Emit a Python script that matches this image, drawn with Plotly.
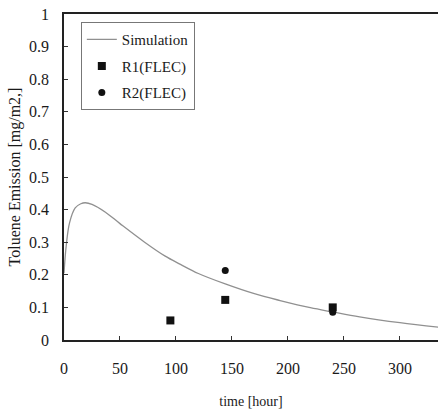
import plotly.graph_objects as go

# Simulation curve
sim_t = [0, 2, 5, 10, 15, 19, 25, 37, 50, 72, 90, 104, 120, 144, 170, 193, 220, 240, 264, 300, 335]
sim_y = [0.205, 0.29, 0.36, 0.405, 0.418, 0.421, 0.416, 0.392, 0.357, 0.30, 0.258, 0.232, 0.204,
         0.172, 0.142, 0.121, 0.099, 0.086, 0.071, 0.053, 0.039]

# Measured points
r1_t = [95, 144, 240]
r1_y = [0.06, 0.123, 0.10]
r2_t = [144, 240]
r2_y = [0.213, 0.085]

x_ticks = [0, 50, 100, 150, 200, 250, 300]
y_ticks = [0, 0.1, 0.2, 0.3, 0.4, 0.5, 0.6, 0.7, 0.8, 0.9, 1]
y_labels = ["0", "0.1", "0.2", "0.3", "0.4", "0.5", "0.6", "0.7", "0.8", "0.9", "1"]

FONT = "Liberation Serif"

fig = go.Figure()
fig.add_trace(go.Scatter(x=sim_t, y=sim_y, mode="lines", name="Simulation", legendgroup="a",
                         line=dict(color="#909090", width=1.3, shape="spline")))
fig.add_trace(go.Scatter(x=r1_t, y=r1_y, mode="markers", name="R1(FLEC)", legendgroup="b",
                         marker=dict(symbol="square", size=8, color="#111111")))
fig.add_trace(go.Scatter(x=r2_t, y=r2_y, mode="markers", name="R2(FLEC)", legendgroup="c",
                         marker=dict(symbol="circle", size=7, color="#111111")))

fig.update_layout(
    width=438, height=412,
    margin=dict(l=64, r=0, t=14, b=72),
    paper_bgcolor="white", plot_bgcolor="white",
    font=dict(family=FONT, color="#1a1a1a", size=16),
    showlegend=True,
    legend=dict(x=0.045, y=0.975, xanchor="left", yanchor="top",
                bordercolor="#777777", borderwidth=1, bgcolor="white",
                font=dict(family=FONT, size=15), traceorder="grouped",
                tracegroupgap=4, itemwidth=30),
)
fig.update_xaxes(range=[0, 334], tickvals=x_ticks, ticks="inside", ticklen=4,
                 tickcolor="#333333", showline=True, linecolor="#222222", linewidth=2,
                 mirror=True, showgrid=False, zeroline=False,
                 tickfont=dict(family=FONT, size=16), ticklabelstandoff=13,
                 title=dict(text="time [hour]", font=dict(family=FONT, size=14), standoff=20))
fig.update_yaxes(range=[0, 1], tickvals=y_ticks, ticktext=y_labels, ticks="inside", ticklen=4,
                 tickcolor="#333333", showline=True, linecolor="#222222", linewidth=1.5,
                 showgrid=False, zeroline=False,
                 tickfont=dict(family=FONT, size=16), ticklabelstandoff=10,
                 title=dict(text="Toluene Emission [mg/m2,]", font=dict(family=FONT, size=16),
                            standoff=4))

fig.write_html("out.html")
